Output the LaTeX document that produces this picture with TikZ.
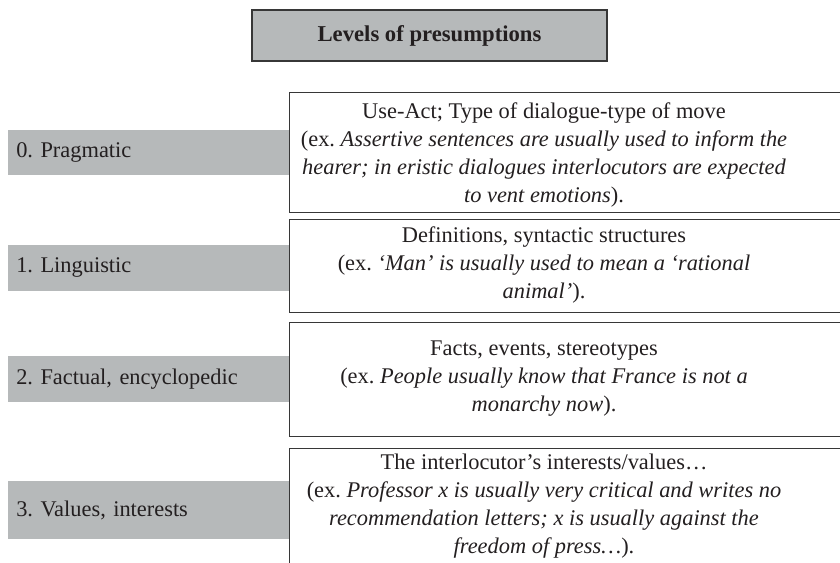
\documentclass[tikz,border=0pt]{standalone}
\usepackage{fontspec}
\setmainfont{Liberation Serif}
\usepackage{xcolor}
\definecolor{PanelGrey}{RGB}{182,185,186}
\definecolor{InkDark}{RGB}{35,31,32}
\definecolor{RuleDark}{RGB}{55,55,55}
\frenchspacing

\begin{document}
\begin{tikzpicture}[
    x=0.75pt,y=-0.75pt,
    font=\fontsize{16.8}{21}\selectfont,
    text=InkDark,
    head/.style={draw=RuleDark,line width=0.8pt,fill=PanelGrey,minimum width=266.25pt,minimum height=38.25pt,font=\fontsize{17}{21}\selectfont\bfseries},
    level/.style={fill=PanelGrey,anchor=west,text width=198.75pt,inner xsep=6pt,inner ysep=0pt,align=left},
    frame/.style={draw=RuleDark,line width=0.75pt},
    desc/.style={anchor=north,align=center,inner sep=0pt},
  ]
    \useasboundingbox (0,0) rectangle (840,563);
    \node[head] (title) at (429.5,35.5) {Levels of presumptions};

    \draw[frame] (289,93) rectangle (900,213);
    \draw[frame] (289,220) rectangle (900,313);
    \draw[frame] (289,323) rectangle (900,436);
    \draw[frame] (289,448) rectangle (900,620);

    \node[level,minimum height=33.75pt] (prag) at (8,152.5) {0. Pragmatic};
    \node[level,minimum height=34.5pt] (ling) at (8,268) {1. Linguistic};
    \node[level,minimum height=34.5pt] (fact) at (8,379) {2. Factual, encyclopedic};
    \node[level,minimum height=43.5pt] (vals) at (8,510) {3. Values, interests};

    \node[desc] (pragtxt) at (544,102) {Use-Act; Type of dialogue-type of move\\(ex. \textit{Assertive sentences are usually used to inform the}\\\textit{hearer; in eristic dialogues interlocutors are expected}\\\textit{to vent emotions}).};
    \node[desc] (lingtxt) at (544,226) {Definitions, syntactic structures\\(ex. \textit{`Man' is usually used to mean a `rational}\\\textit{animal'}).};
    \node[desc] (facttxt) at (544,341) {Facts, events, stereotypes\\(ex. \textit{People usually know that France is not a}\\\textit{monarchy now}).};
    \node[desc] (valstxt) at (544,454) {The interlocutor's interests/values…\\(ex. \textit{Professor x is usually very critical and writes no}\\\textit{recommendation letters; x is usually against the}\\\textit{freedom of press…}).};
  \end{tikzpicture}
\end{document}
